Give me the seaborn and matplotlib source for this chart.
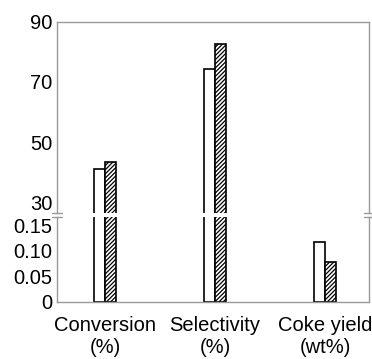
import numpy as np
import pandas as pd
import matplotlib
matplotlib.use("Agg")
import matplotlib.pyplot as plt
import seaborn as sns

# data
categories = ["Conversion\n(%)", "Selectivity\n(%)", "Coke yield\n(wt%)"]
series = ["Sample 1", "Sample 2"]
values_1 = [40.9, 74.2, 0.118]
values_2 = [43.2, 82.6, 0.078]
top_ticks = [30, 50, 70, 90]
bottom_ticks = [0, 0.05, 0.10, 0.15]
bottom_labels = ["0", "0.05", "0.10", "0.15"]

df = pd.DataFrame({
    "category": categories * 2,
    "series": [series[0]] * 3 + [series[1]] * 3,
    "value": values_1 + values_2,
})

sns.set_style("white")
plt.rcParams["font.family"] = ["Liberation Sans", "DejaVu Sans"]
plt.rcParams["hatch.linewidth"] = 0.9
plt.rcParams["text.color"] = "black"
plt.rcParams["xtick.labelcolor"] = "black"
plt.rcParams["ytick.labelcolor"] = "black"

fig = plt.figure(figsize=(3.72, 3.59), dpi=100)
ax_top = fig.add_axes([0.152, 0.407, 0.840, 0.532])
ax_bot = fig.add_axes([0.152, 0.159, 0.840, 0.237])

grey = "#9a9a9a"
for ax in (ax_top, ax_bot):
    sns.barplot(data=df, x="category", y="value", hue="series", ax=ax,
                width=0.2, palette=["white", "white"], edgecolor="black",
                linewidth=1.2, legend=False, saturation=1)
    for bar in ax.containers[1]:
        bar.set_hatch("////////")
    ax.set_xlim(-0.44, 2.4)
    ax.set_xlabel("")
    ax.set_ylabel("")
    for s in ax.spines.values():
        s.set_color(grey)
        s.set_linewidth(1.0)
    ax.tick_params(axis="y", direction="in", length=6, width=0.9, color=grey,
                   labelsize=14.5, pad=3, labelcolor="black")

ax_top.set_ylim(26.4, 90)
ax_top.set_yticks(top_ticks)
ax_top.spines["bottom"].set_visible(False)
ax_top.set_xticks([])

ax_bot.set_ylim(0, 0.167)
ax_bot.set_yticks(bottom_ticks)
ax_bot.set_yticklabels(bottom_labels)
ax_bot.spines["top"].set_visible(False)
ax_bot.tick_params(axis="x", length=0, labelsize=14.5, pad=10, labelcolor="black")

# break marks
d = 0.016
for ax, y in ((ax_top, 0), (ax_bot, 1)):
    for x in (0, 1):
        ax.plot([x - d, x + d], [y, y], transform=ax.transAxes, color=grey,
                lw=1.0, clip_on=False)

fig.savefig("out.png", dpi=100)
